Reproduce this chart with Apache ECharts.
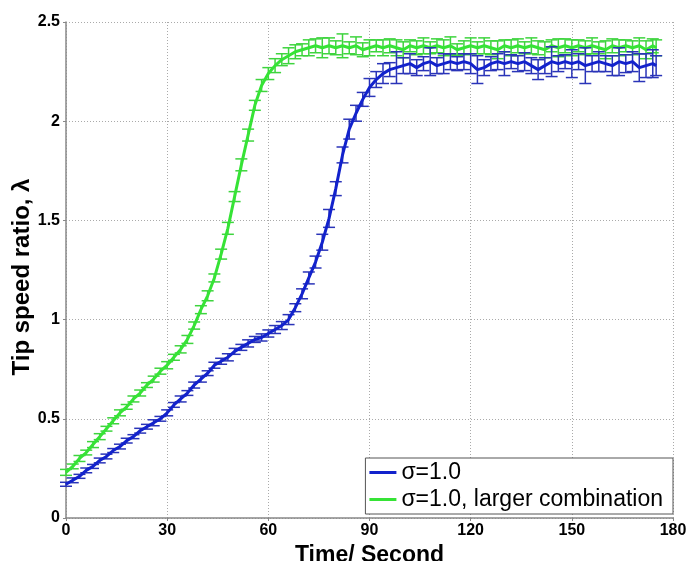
<!DOCTYPE html>
<html>
<head>
<meta charset="utf-8">
<script src="https://cdn.jsdelivr.net/npm/echarts@6/dist/echarts.min.js"></script>
<style>
html, body { margin: 0; padding: 0; background: #fff; }
#chart { width: 686px; height: 561px; }
</style>
</head>
<body>
<div id="chart"></div>
<script>
// time axis (s)
var timeSec = [0, 2, 4, 6, 8, 10, 12, 14, 16, 18, 20, 22, 24, 26, 28, 30, 32, 34, 36, 38,
	40, 42, 44, 46, 48, 50, 52, 54, 56, 58, 60, 62, 64, 66, 68, 70, 72, 74, 76, 78,
	80, 82, 84, 86, 88, 90, 92, 94, 96, 98, 100, 102, 104, 106, 108, 110, 112, 114, 116, 118,
	120, 122, 124, 126, 128, 130, 132, 134, 136, 138, 140, 142, 144, 146, 148, 150, 152, 154, 156, 158,
	160, 162, 164, 166, 168, 170, 172, 174, 175];

// sigma=1.0
var blueRatio = [0.17, 0.19, 0.21, 0.24, 0.26, 0.29, 0.31, 0.34, 0.36, 0.39, 0.41, 0.44, 0.46, 0.48, 0.50,
	0.53, 0.57, 0.60, 0.63, 0.67, 0.70, 0.73, 0.77, 0.79, 0.81, 0.84, 0.86, 0.88, 0.90, 0.91,
	0.93, 0.95, 0.97, 1.00, 1.06, 1.13, 1.21, 1.29, 1.39, 1.51, 1.66, 1.83, 1.96, 2.04, 2.11,
	2.17, 2.21, 2.24, 2.26, 2.27,
	2.28, 2.29, 2.27, 2.29, 2.30, 2.28, 2.29, 2.30, 2.29, 2.30,
	2.29, 2.26, 2.27, 2.29, 2.30, 2.29, 2.30, 2.29, 2.30, 2.28,
	2.26, 2.28, 2.30, 2.29, 2.30, 2.29, 2.30, 2.28, 2.29, 2.30,
	2.29, 2.28, 2.30, 2.29, 2.30, 2.27, 2.28, 2.29, 2.28];
var blueErr = [0.01, 0.012, 0.01, 0.012, 0.01, 0.012, 0.012, 0.01, 0.012, 0.012, 0.01, 0.012, 0.012, 0.015, 0.012,
	0.015, 0.012, 0.015, 0.012, 0.015, 0.015, 0.012, 0.015, 0.015, 0.018, 0.015, 0.015, 0.018, 0.015, 0.018,
	0.018, 0.02, 0.02, 0.025, 0.02, 0.025, 0.03, 0.03, 0.04, 0.045, 0.035, 0.04, 0.05, 0.04, 0.035,
	0.045, 0.04, 0.05, 0.035, 0.08,
	0.04, 0.05, 0.04, 0.035, 0.07, 0.04, 0.05, 0.04, 0.035, 0.04,
	0.05, 0.07, 0.04, 0.035, 0.04, 0.06, 0.035, 0.04, 0.045, 0.04,
	0.05, 0.04, 0.075, 0.04, 0.035, 0.07, 0.04, 0.09, 0.04, 0.05,
	0.04, 0.05, 0.07, 0.045, 0.05, 0.07, 0.06, 0.07, 0.05];

// sigma=1.0, larger combination
var greenRatio = [0.23, 0.26, 0.30, 0.33, 0.37, 0.41, 0.45, 0.49, 0.53, 0.56, 0.60, 0.63, 0.67, 0.70, 0.74,
	0.77, 0.81, 0.85, 0.90, 0.97, 1.05, 1.12, 1.21, 1.33, 1.46, 1.62, 1.78, 1.93, 2.08, 2.18,
	2.24, 2.28, 2.31, 2.33, 2.35, 2.36, 2.37,
	2.38, 2.37, 2.38, 2.37, 2.38, 2.37, 2.38, 2.36, 2.37, 2.38, 2.37, 2.38, 2.37,
	2.36, 2.38, 2.37, 2.38, 2.37, 2.38, 2.37, 2.38, 2.36, 2.37,
	2.38, 2.37, 2.38, 2.37, 2.36, 2.38, 2.37, 2.38, 2.37, 2.38,
	2.37, 2.36, 2.38, 2.37, 2.38, 2.37, 2.38, 2.37, 2.38, 2.37,
	2.36, 2.38, 2.37, 2.38, 2.37, 2.38, 2.36, 2.38, 2.37];
var greenErr = [0.015, 0.012, 0.015, 0.012, 0.015, 0.015, 0.012, 0.015, 0.015, 0.012, 0.015, 0.015, 0.012, 0.015, 0.015,
	0.018, 0.015, 0.018, 0.02, 0.018, 0.02, 0.025, 0.02, 0.025, 0.03, 0.025, 0.03, 0.03, 0.025, 0.03,
	0.03, 0.035, 0.03, 0.04, 0.035, 0.03, 0.04,
	0.035, 0.05, 0.04, 0.035, 0.06, 0.03, 0.045, 0.035, 0.04, 0.03, 0.04, 0.035, 0.04,
	0.04, 0.03, 0.035, 0.04, 0.03, 0.035, 0.04, 0.045, 0.03, 0.035,
	0.04, 0.03, 0.04, 0.035, 0.045, 0.03, 0.04, 0.035, 0.03, 0.04,
	0.035, 0.04, 0.03, 0.045, 0.035, 0.04, 0.03, 0.035, 0.04, 0.03,
	0.045, 0.035, 0.04, 0.03, 0.035, 0.04, 0.045, 0.035, 0.04];

var blueName = 'σ=1.0';
var greenName = 'σ=1.0, larger combination';
var blueColor = '#1222cc';
var greenColor = '#36e336';

function linePoints(vals) {
	var out = [];
	for (var i = 0; i < timeSec.length; i++) {
		out.push([timeSec[i], vals[i]]);
	}
	return out;
}

function errPoints(vals, errs) {
	var out = [];
	for (var i = 0; i < timeSec.length; i++) {
		out.push([timeSec[i], vals[i], errs[i]]);
	}
	return out;
}

// vertical bar with two caps
function errorBar(color) {
	return function (params, api) {
		var x = api.value(0), y = api.value(1), e = api.value(2);
		var hi = api.coord([x, y + e]);
		var lo = api.coord([x, y - e]);
		var w = 6;
		var st = { stroke: color, lineWidth: 1.5 };
		return {
			type: 'group',
			children: [
				{ type: 'line', shape: { x1: hi[0], y1: hi[1], x2: lo[0], y2: lo[1] }, style: st },
				{ type: 'line', shape: { x1: hi[0] - w, y1: hi[1], x2: hi[0] + w, y2: hi[1] }, style: st },
				{ type: 'line', shape: { x1: lo[0] - w, y1: lo[1], x2: lo[0] + w, y2: lo[1] }, style: st }
			]
		};
	};
}

var myChart = echarts.init(document.getElementById('chart'));
var font = 'Liberation Sans, Arial, sans-serif';
var option = {
	animation: false,
	backgroundColor: '#fff',
	grid: { left: 66, right: 13, top: 22, bottom: 43, containLabel: false, outerBoundsMode: 'none' },
	legend: {
		data: [blueName, greenName],
		orient: 'vertical',
		right: 13,
		top: 458,
		icon: 'rect',
		itemWidth: 27,
		itemHeight: 3,
		itemGap: 4,
		padding: [3, 10, 3, 4],
		backgroundColor: '#fff',
		borderColor: '#555',
		borderWidth: 1,
		borderRadius: 0,
		z: 10,
		textStyle: { fontFamily: font, fontSize: 23, color: '#000' }
	},
	xAxis: {
		type: 'value',
		min: 0,
		max: 180,
		interval: 30,
		name: 'Time/ Second',
		nameLocation: 'middle',
		nameGap: 18,
		nameTextStyle: { fontFamily: font, fontSize: 23, fontWeight: 'bold', color: '#000' },
		axisLine: { lineStyle: { color: '#888', width: 1.5 } },
		axisTick: { length: 3, lineStyle: { color: '#888' } },
		axisLabel: { margin: 5, fontFamily: font, fontSize: 16, fontWeight: 'bold', color: '#000' },
		splitLine: { show: true, lineStyle: { color: '#aaa', type: [1, 2], width: 1 } }
	},
	yAxis: {
		type: 'value',
		min: 0,
		max: 2.5,
		interval: 0.5,
		name: 'Tip speed ratio, λ',
		nameLocation: 'middle',
		nameGap: 32,
		nameMoveOverlap: false,
		nameTextStyle: { fontFamily: font, fontSize: 24, fontWeight: 'bold', color: '#000', padding: [0, 14, 0, 0] },
		axisLine: { show: true, lineStyle: { color: '#888', width: 1.5 } },
		axisTick: { show: true, length: 3, lineStyle: { color: '#888' } },
		axisLabel: { margin: 6, fontFamily: font, fontSize: 16, fontWeight: 'bold', color: '#000' },
		splitLine: { show: true, lineStyle: { color: '#aaa', type: [1, 2], width: 1 } }
	},
	series: [
		{
			name: greenName,
			type: 'line',
			data: linePoints(greenRatio),
			symbol: 'none',
			lineStyle: { color: greenColor, width: 3 },
			itemStyle: { color: greenColor },
			z: 2
		},
		{
			name: 'green-err',
			type: 'custom',
			data: errPoints(greenRatio, greenErr),
			renderItem: errorBar('#3ed43e'),
			encode: { x: 0, y: 1 },
			silent: true,
			z: 2
		},
		{
			name: blueName,
			type: 'line',
			data: linePoints(blueRatio),
			symbol: 'none',
			lineStyle: { color: blueColor, width: 3 },
			itemStyle: { color: blueColor },
			z: 3
		},
		{
			name: 'blue-err',
			type: 'custom',
			data: errPoints(blueRatio, blueErr),
			renderItem: errorBar('#2a34b8'),
			encode: { x: 0, y: 1 },
			silent: true,
			z: 3
		}
	]
};
myChart.setOption(option);
</script>
</body>
</html>
